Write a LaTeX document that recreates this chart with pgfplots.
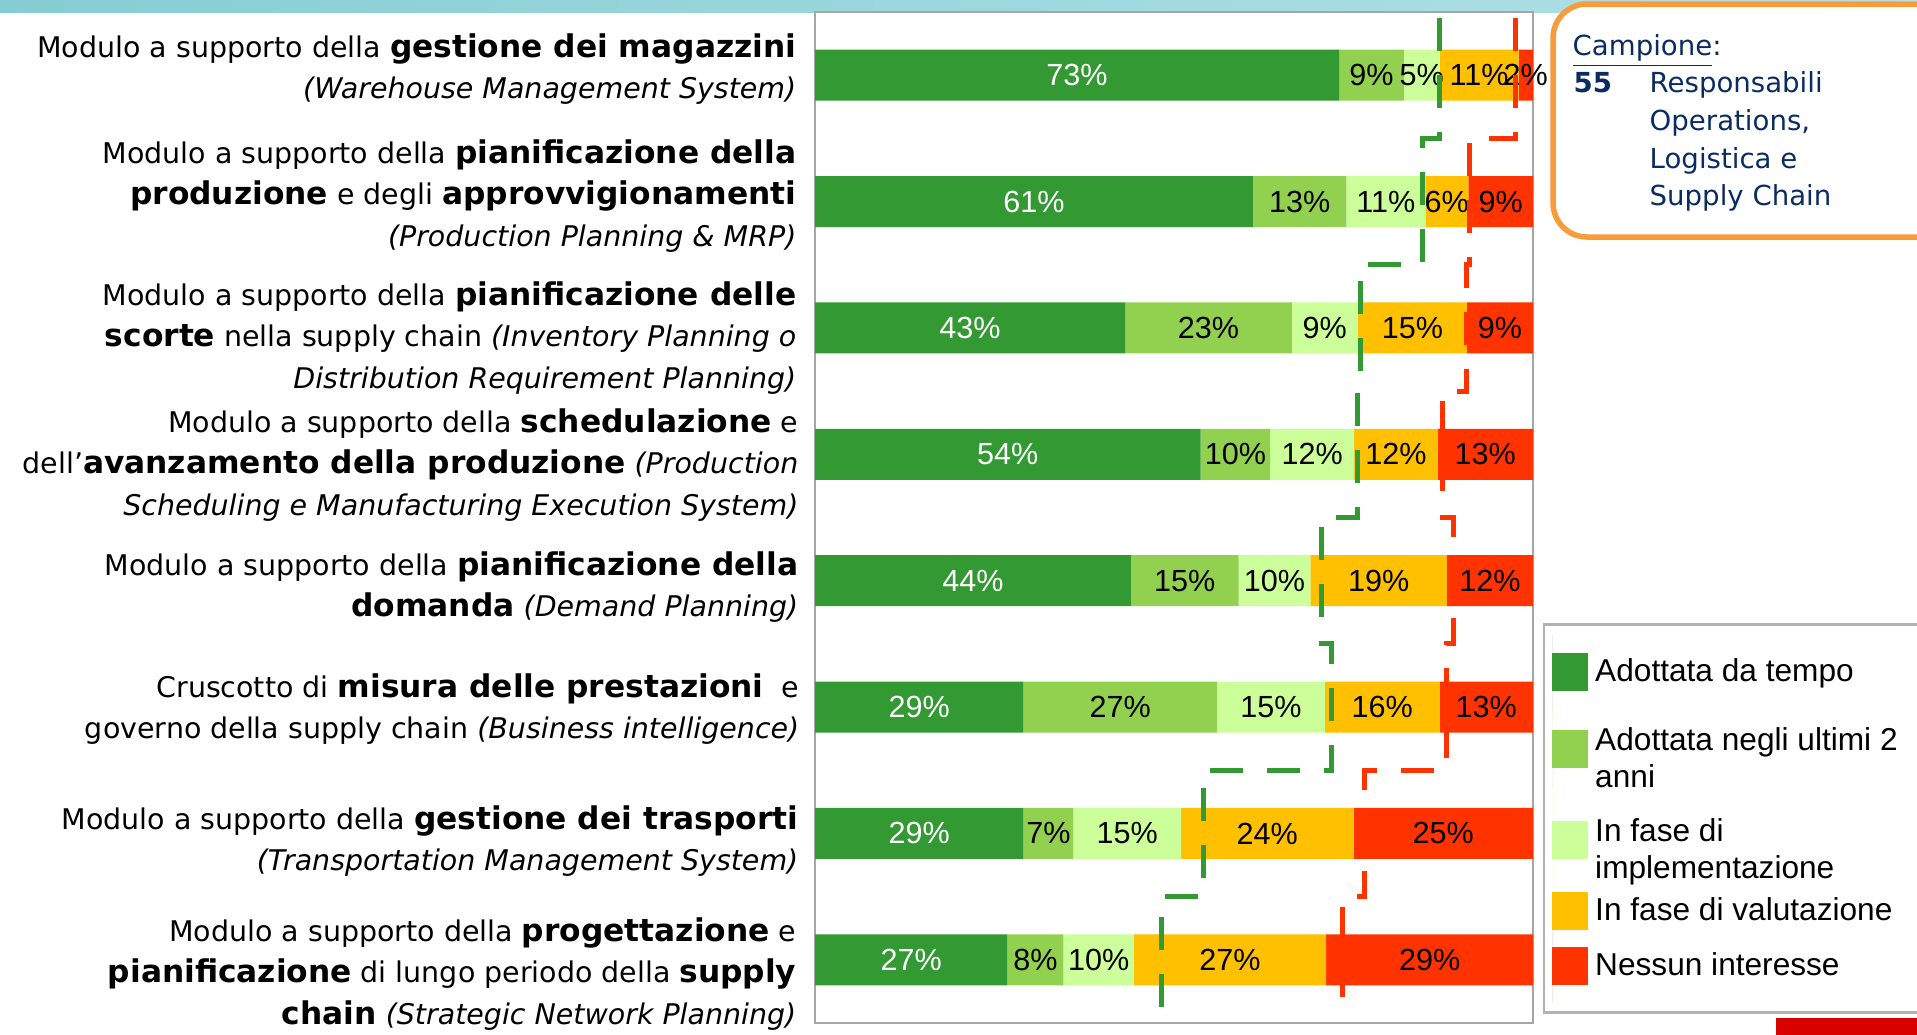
\documentclass[border=0pt]{standalone}
\usepackage{pgfplots}
\pgfplotsset{compat=1.18}
\usepackage{fontspec}
\setmainfont{Liberation Sans}
\newfontfamily\tah{DejaVu Sans}

\definecolor{gDark}{HTML}{339933}
\definecolor{gMid}{HTML}{92D050}
\definecolor{gPale}{HTML}{CCFF99}
\definecolor{amber}{HTML}{FFC000}
\definecolor{redO}{HTML}{FF3300}
\definecolor{navy}{HTML}{0B2C63}
\definecolor{boxor}{HTML}{F99B3A}
\definecolor{teal1}{HTML}{86CDD3}
\definecolor{teal2}{HTML}{B3E2E7}

\newcommand\B[1]{{\fontsize{8.9}{11.8}\selectfont\bfseries #1}}
\newcommand\lab{\tah\fontsize{8.1}{11.8}\selectfont}
\newcommand\LE[1]{\begin{tabular}{@{}l@{}}#1\end{tabular}}
% legend swatch; #1 = half height of the legend row
\pgfplotsset{sw/.style={legend image code/.code={
  \fill[##1] (0mm,-1.9mm) rectangle (3.6mm,1.9mm);
  \path (0mm,-#1) -- (0mm,#1);}}}

\begin{document}
\begin{tikzpicture}[x=0.1mm,y=-0.1mm]
\path[use as bounding box] (0,0) rectangle (1917,1035);
\shade[left color=teal1, right color=teal2] (0,0) rectangle (1917,12);
\fill[red!85!black] (1776,1018) rectangle (1917,1035);
\coordinate (O) at (815,1023);

% stacked bars
\begin{axis}[
  at={(O)}, anchor=south west, scale only axis,
  width=71.8mm, height=101.1mm,
  xmin=0, xmax=100, ymin=0.5, ymax=8.5, y dir=reverse,
  xtick=\empty, ytick=\empty,
  axis line style={draw=gray!70, line width=0.7pt},
  xbar stacked, bar width=5.1mm,
  point meta=rawx,
  nodes near coords={\pgfmathprintnumber[fixed,precision=0,assume math mode=true]{\pgfplotspointmeta}\%},
  nodes near coords align={center},
  every node near coord/.append style={font=\fontsize{8.7}{10}\selectfont,
    inner sep=0pt, text=black},
  legend style={at={(axis description cs:1.0139,0.3956)}, anchor=north west,
    draw=gray!60, line width=0.7pt, fill=white,
    font=\fontsize{9}{10.7}\selectfont,
    inner xsep=0.8mm, inner ysep=1mm, row sep=0pt,
    nodes={inner ysep=0pt},
    /tikz/every even column/.append style={column sep=0.6mm}},
  legend cell align=left,
]
\addplot[fill=gDark, draw=none, sw=3.8mm, nodes near coords style={text=white}]
  coordinates {(73,1) (61,2) (43.2,3) (53.7,4) (44,5) (29,6) (29,7) (26.8,8)};
\addlegendentry{\makebox[32mm][l]{Adottata da tempo}}
\addplot[fill=gMid, draw=none, sw=3.9mm]
  coordinates {(9,1) (13,2) (23.2,3) (9.7,4) (15,5) (27,6) (7,7) (7.8,8)};
\addlegendentry{\LE{Adottata negli ultimi 2\\anni}}
\addplot[fill=gPale, draw=none, sw=5.2mm]
  coordinates {(5,1) (11,2) (9.2,3) (11.7,4) (10,5) (15,6) (15,7) (9.8,8)};
\addlegendentry{\LE{In fase di\\implementazione}}
\addplot[fill=amber, draw=none, sw=1.9mm]
  coordinates {(11,1) (6,2) (15.2,3) (11.6,4) (19,5) (16,6) (24,7) (26.8,8)};
\addlegendentry{In fase di valutazione}
\addplot[fill=redO, draw=none, sw=3.6mm]
  coordinates {(2,1) (9,2) (9.2,3) (13.3,4) (12,5) (13,6) (25,7) (28.8,8)};
\addlegendentry{Nessun interesse}
\end{axis}

% dashed step lines
\begin{axis}[
  at={(O)}, anchor=south west, scale only axis,
  width=71.8mm, height=101.1mm,
  xmin=0, xmax=100, ymin=0.5, ymax=8.5, y dir=reverse,
  hide axis,
]
\addplot[gDark, line width=0.5mm, dash pattern=on 3.3mm off 2.4mm] coordinates {
  (87,0.55) (87,1.5) (84.6,1.5) (84.6,2.5) (76,2.5) (76,3.5) (75.6,3.5) (75.6,4.5)
  (70.5,4.5) (70.5,5.5) (71.9,5.5) (71.9,6.5) (54.1,6.5) (54.1,7.5) (48.2,7.5) (48.2,8.42)};
\addplot[redO, line width=0.5mm, dash pattern=on 3.3mm off 2.4mm] coordinates {
  (97.6,0.55) (97.6,1.5) (91.1,1.5) (91.1,2.5) (90.8,2.5) (90.8,3.5) (87.4,3.5) (87.4,4.5)
  (88.9,4.5) (88.9,5.5) (87.9,5.5) (87.9,6.5) (76.5,6.5) (76.5,7.5) (73.5,7.5) (73.5,8.44)};
\end{axis}

% row labels
\begin{scope}[every node/.style={anchor=east, align=right, font=\lab, inner sep=0pt}]
\node at (797,69) {Modulo a supporto della \B{gestione dei magazzini}\\
  \textit{(Warehouse Management System)}};
\node at (797,196) {Modulo a supporto della \B{pianificazione della}\\
  \B{produzione} e degli \B{approvvigionamenti}\\
  \textit{(Production Planning \& MRP)}};
\node at (797,338) {Modulo a supporto della \B{pianificazione delle}\\
  \B{scorte} nella supply chain \textit{(Inventory Planning o}\\
  \textit{Distribution Requirement Planning)}};
\node at (799,465) {Modulo a supporto della \B{schedulazione} e\\
  dell’\B{avanzamento della produzione} \textit{(Production}\\
  \textit{Scheduling e Manufacturing Execution System)}};
\node at (799,587) {Modulo a supporto della \B{pianificazione della}\\
  \B{domanda} \textit{(Demand Planning)}};
\node at (800,709) {Cruscotto di \B{misura delle prestazioni}~ e\\
  governo della supply chain \textit{(Business intelligence)}};
\node at (799,841) {Modulo a supporto della \B{gestione dei trasporti}\\
  \textit{(Transportation Management System)}};
\node at (797,974) {Modulo a supporto della \B{progettazione} e\\
  \B{pianificazione} di lungo periodo della \B{supply}\\
  \B{chain} \textit{(Strategic Network Planning)}};
\end{scope}

% sample box
\draw[boxor, fill=white, line width=0.55mm, rounded corners=3.4mm] (1553,4) rectangle (1960,237);
\begin{scope}[every node/.style={anchor=base west, text=navy, inner sep=0pt,
    font=\tah\fontsize{7.85}{10.7}\selectfont}]
\node at (1572,55) {\underline{Campione}:};
\node at (1573,92) {\textbf{55}};
\node at (1649,92) {Responsabili};
\node at (1649,130) {Operations,};
\node at (1649,168) {Logistica e};
\node at (1649,205) {Supply Chain};
\end{scope}
\end{tikzpicture}
\end{document}
